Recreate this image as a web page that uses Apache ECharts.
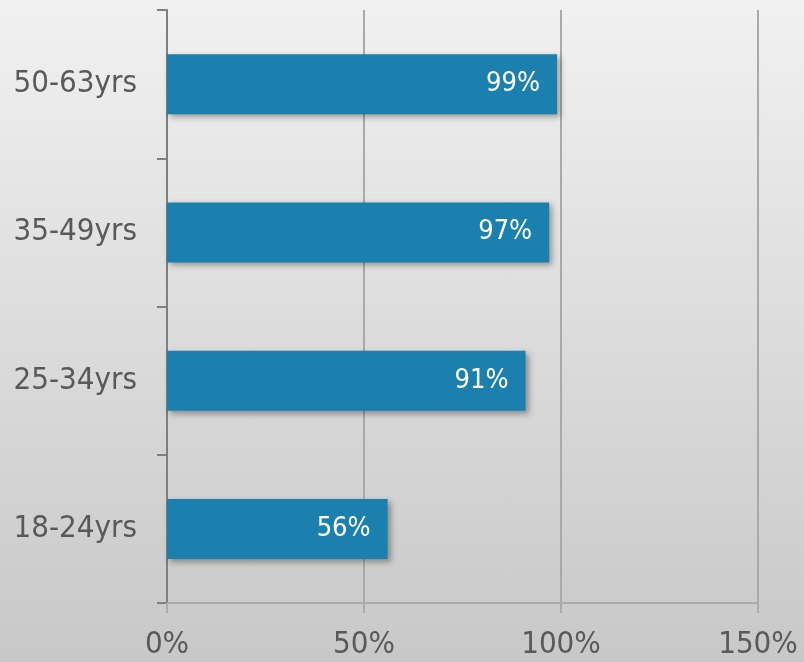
<!DOCTYPE html>
<html>
<head>
<meta charset="utf-8">
<script src="https://cdn.jsdelivr.net/npm/echarts@6/dist/echarts.min.js"></script>
<style>
  html, body { margin: 0; padding: 0; }
  #chart { width: 804px; height: 662px;
    background: linear-gradient(to bottom, #f1f1f1 0%, #dcdcdc 50%, #c8c8c8 100%); }
</style>
</head>
<body>
<div id="chart"></div>
<script>
// Age groups, bottom to top on the category axis
const categories = ['18-24yrs', '25-34yrs', '35-49yrs', '50-63yrs'];
const values = [56, 91, 97, 99];
const xTicks = [0, 50, 100, 150];

const chart = echarts.init(document.getElementById('chart'), null, { renderer: 'canvas' });
const font = 'Tahoma, "DejaVu Sans Condensed", "DejaVu Sans", sans-serif';

chart.setOption({
  backgroundColor: 'transparent',
  animation: false,
  grid: { left: 167, right: 46, top: 10, bottom: 59, containLabel: false },
  xAxis: {
    type: 'value',
    min: xTicks[0],
    max: xTicks[xTicks.length - 1],
    interval: 50,
    axisLine: { show: true, lineStyle: { color: '#ababab', width: 2 } },
    axisTick: { show: true, length: 10, lineStyle: { color: '#ababab', width: 2 } },
    splitLine: { show: true, lineStyle: { color: '#a9a9a9', width: 2 } },
    axisLabel: {
      formatter: v => v + '%',
      color: '#595959',
      fontFamily: font,
      fontSize: 31,
      margin: 26
    }
  },
  yAxis: {
    type: 'category',
    data: categories,
    axisLine: { show: true, lineStyle: { color: '#7f7f7f', width: 2 } },
    axisTick: { show: true, length: 10, lineStyle: { color: '#7f7f7f', width: 2 } },
    axisLabel: {
      color: '#595959',
      fontFamily: font,
      fontSize: 31,
      margin: 30
    }
  },
  series: [{
    type: 'bar',
    data: values,
    barWidth: 60,
    itemStyle: {
      color: '#1b80ad',
      shadowColor: 'rgba(0,0,0,0.35)',
      shadowBlur: 6,
      shadowOffsetX: 3,
      shadowOffsetY: 3
    },
    label: {
      show: true,
      position: 'insideRight',
      distance: 17,
      formatter: p => p.value + '%',
      color: '#ffffff',
      fontFamily: font,
      fontSize: 27
    }
  }]
});
</script>
</body>
</html>
